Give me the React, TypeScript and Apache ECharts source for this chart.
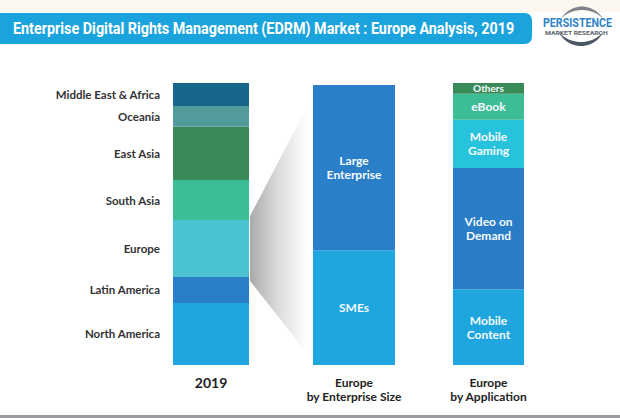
import React, { useEffect, useRef } from "react";
import * as echarts from "echarts";

// ---- data ----
const barCategories = ["2019", "Europe\nby Enterprise Size", "Europe\nby Application"];

const regions = ["North America", "Latin America", "Europe", "South Asia", "East Asia", "Oceania", "Middle East & Africa"];
const regionShare = [22.0, 9.2, 20.2, 14.2, 18.9, 7.3, 8.2];
const regionColors = ["#1fa6df", "#2a7fc8", "#4ac2d2", "#3dbd95", "#3a8a59", "#519b9c", "#17668b"];

const sizeSegments = ["SMEs", "Large\nEnterprise"];
const sizeShare = [41, 59];
const sizeColors = ["#1fa6df", "#2a7fc8"];

const apps = ["Mobile\nContent", "Video on\nDemand", "Mobile\nGaming", "eBook", "Others"];
const appShare = [26.9, 43.0, 17.1, 9.2, 3.8];
const appColors = ["#1fa6df", "#2a7cc6", "#27c2dc", "#3dbd95", "#3a8a59"];

const TITLE = "Enterprise Digital Rights Management (EDRM) Market : Europe Analysis, 2019";

// layout
const grids = [
  { left: 173, width: 76, top: 83 },
  { left: 313, width: 82, top: 85 },
  { left: 453, width: 71, top: 83 },
];
const BOTTOM = 418 - 365;
const FONT = "Lato, 'Open Sans', sans-serif";

function measure(text: string, font: string): number {
  const ctx = document.createElement("canvas").getContext("2d");
  if (!ctx) return 1;
  ctx.font = font;
  return ctx.measureText(text).width || 1;
}

// tapered crescent shape for the logo swooshes (decoration)
function crescent(cx: number, cy: number, r: number, a0: number, a1: number, thick: number) {
  const n = 24;
  const outer: number[][] = [];
  const inner: number[][] = [];
  for (let k = 0; k <= n; k++) {
    const t = k / n;
    const a = ((a0 + (a1 - a0) * t) * Math.PI) / 180;
    const rr = r + thick * Math.sin(t * Math.PI);
    outer.push([cx + rr * Math.cos(a), cy + rr * Math.sin(a)]);
    inner.push([cx + r * Math.cos(a), cy + r * Math.sin(a)]);
  }
  return outer.concat(inner.reverse());
}

export default function App() {
  const ref = useRef<HTMLDivElement>(null);
  useEffect(() => {
    if (!ref.current) return;
    const chart = echarts.init(ref.current, null, { renderer: "svg" });

    const series: any[] = [];
    regions.forEach((name, i) => {
      series.push({
        type: "bar", name, stack: "r", xAxisIndex: 0, yAxisIndex: 0, barWidth: "100%",
        data: [regionShare[i]], itemStyle: { color: regionColors[i] },
        label: { show: true, position: "left", distance: 13, formatter: name, color: "#333", fontSize: 11.5, fontWeight: "bold", fontFamily: FONT },
      });
    });
    sizeSegments.forEach((name, i) => {
      series.push({
        type: "bar", name, stack: "s", xAxisIndex: 1, yAxisIndex: 1, barWidth: "100%",
        data: [sizeShare[i]], itemStyle: { color: sizeColors[i] },
        label: { show: true, position: "inside", formatter: name, color: "#f4fbff", fontSize: 12, fontWeight: "bold", fontFamily: FONT, lineHeight: 14 },
      });
    });
    apps.forEach((name, i) => {
      series.push({
        type: "bar", name, stack: "a", xAxisIndex: 2, yAxisIndex: 2, barWidth: "100%",
        data: [appShare[i]], itemStyle: { color: appColors[i] },
        label: { show: true, position: "inside", formatter: name, color: "#f4fbff", fontSize: name === "Others" ? 10 : 12, fontWeight: "bold", fontFamily: FONT, lineHeight: 14 },
      });
    });

    const euroIdx = regions.indexOf("Europe");
    const below = regionShare.slice(0, euroIdx).reduce((a, b) => a + b, 0);

    const titleFont = "bold 17px Roboto, 'Liberation Sans', sans-serif";
    const titleScale = 502 / measure(TITLE, titleFont);
    const logoFont = "bold 12.5px Roboto, 'Liberation Sans', sans-serif";
    const logoScale = 69 / measure("PERSISTENCE", logoFont);
    const subFont = "bold 5px Roboto, 'Liberation Sans', sans-serif";
    const subScale = 63 / measure("MARKET RESEARCH", subFont);

    const option: any = {
      animation: false,
      backgroundColor: "#ffffff",
      grid: grids.map((g) => ({ left: g.left, width: g.width, top: g.top, bottom: BOTTOM })),
      xAxis: barCategories.map((c, i) => ({
        type: "category", gridIndex: i, data: [c],
        axisLine: { show: false }, axisTick: { show: false },
        axisLabel: {
          margin: 10, color: "#222", fontFamily: FONT,
          fontSize: i === 0 ? 14 : 12, fontWeight: "bold", lineHeight: 14,
        },
      })),
      yAxis: grids.map((_, i) => ({
        type: "value", gridIndex: i, min: 0, max: 100, show: false,
      })),
      series,
      graphic: [
        { id: "cream", type: "rect", shape: { x: 0, y: 0, width: 620, height: 12 }, style: { fill: "#fcf8ef" }, z: 0 },
        { id: "tbar", type: "rect", shape: { x: -10, y: 13, width: 542, height: 31, r: 7 }, style: { fill: "#1aa3dc" }, z: 1 },
        {
          id: "title", type: "text", x: 13, y: 28.5, scaleX: titleScale, z: 2,
          style: { text: TITLE, fill: "#ffffff", font: titleFont, textVerticalAlign: "middle" },
        },
        { id: "sw1", type: "polygon", z: 10, shape: { points: crescent(582, 40, 30, 226, 314, 3.5) }, style: { fill: "#7f848c" } },
        { id: "sw2", type: "polygon", z: 10, shape: { points: crescent(581, 12, 30, 42, 138, 4) }, style: { fill: "#4d5866" } },
        { id: "logo", type: "text", x: 543, y: 23, scaleX: logoScale, z: 11, style: { text: "PERSISTENCE", fill: "#2f83c6", font: logoFont, textVerticalAlign: "middle" } },
        { id: "logosub", type: "text", x: 545, y: 33, scaleX: subScale, z: 11, style: { text: "MARKET RESEARCH", fill: "#5a5f66", font: subFont, textVerticalAlign: "middle" } },
        { id: "foot", type: "rect", shape: { x: 0, y: 415, width: 620, height: 3 }, style: { fill: "#9a9aa0" }, z: 1 },
      ],
    };
    chart.setOption(option);

    const yEuBottom = chart.convertToPixel({ yAxisIndex: 0 }, below) as number;
    const yEuTop = chart.convertToPixel({ yAxisIndex: 0 }, below + regionShare[euroIdx]) as number;
    const yMidTop = chart.convertToPixel({ yAxisIndex: 1 }, 100) as number;
    const yMidBottom = chart.convertToPixel({ yAxisIndex: 1 }, 0) as number;
    const x0 = grids[0].left + grids[0].width + 1;
    const x1 = grids[1].left - 6;

    chart.setOption({
      graphic: [
        {
          id: "funnel", type: "polygon", z: -1,
          shape: { points: [[x0, yEuTop - 4], [x1, yMidTop + 22], [x1, yMidBottom - 12], [x0, yEuBottom + 4]] },
          style: {
            fill: new echarts.graphic.LinearGradient(0, 0, 1, 0, [
              { offset: 0, color: "#aaaaaa" },
              { offset: 0.5, color: "#dcdcdc" },
              { offset: 1, color: "#ffffff" },
            ]),
          },
        },
      ],
    });

    return () => chart.dispose();
  }, []);
  return <div ref={ref} style={{ position: "fixed", left: 0, top: 0, width: 620, height: 418 }} />;
}
